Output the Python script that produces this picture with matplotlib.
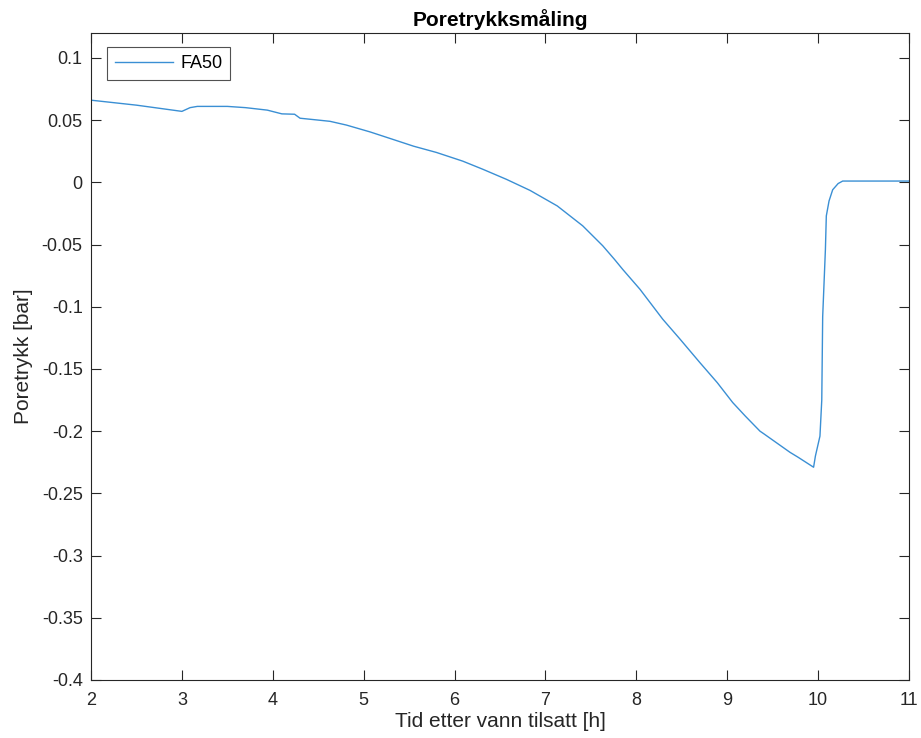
import matplotlib
matplotlib.use('Agg')
import matplotlib.pyplot as plt
from matplotlib.ticker import FuncFormatter

tid = [2.00, 2.50, 3.00, 3.09, 3.17, 3.50, 3.70, 3.94, 4.02, 4.10, 4.24, 4.30, 4.50, 4.63, 4.81,
       5.07, 5.30, 5.55, 5.80, 6.09, 6.31, 6.57, 6.83, 7.13, 7.41, 7.63, 7.76, 7.85, 8.04, 8.29,
       8.48, 8.70, 8.89, 9.06, 9.20, 9.36, 9.40, 9.69, 9.78, 9.95, 9.97, 10.02, 10.04, 10.05,
       10.08, 10.09, 10.12, 10.16, 10.22, 10.27, 10.50, 11.00]
poretrykk = [0.066, 0.062, 0.057, 0.060, 0.061, 0.061, 0.060, 0.058, 0.0565, 0.0550, 0.0547, 0.0515,
             0.050, 0.049, 0.046, 0.0405, 0.035, 0.029, 0.024, 0.017, 0.0105, 0.0024, -0.0065,
             -0.019, -0.035, -0.051, -0.062, -0.070, -0.086, -0.110, -0.126, -0.145, -0.161,
             -0.177, -0.188, -0.200, -0.202, -0.217, -0.221, -0.229, -0.220, -0.204, -0.175,
             -0.108, -0.054, -0.027, -0.015, -0.006, -0.001, 0.001, 0.001, 0.001]

xticks = [2, 3, 4, 5, 6, 7, 8, 9, 10, 11]
yticks = [-0.4, -0.35, -0.3, -0.25, -0.2, -0.15, -0.1, -0.05, 0, 0.05, 0.1]

plt.rcParams['font.family'] = ['Liberation Sans', 'DejaVu Sans']
plt.rcParams['axes.unicode_minus'] = False
fs = 13

fig = plt.figure(figsize=(9.21, 7.38), dpi=100)
ax = fig.add_axes([0.0988, 0.0786, 0.8882, 0.8767])

ax.plot(tid, poretrykk, color='#3A8FD4', linewidth=1.0, label='FA50')

ax.set_xlim(2, 11)
ax.set_ylim(-0.4, 0.12)
ax.set_xticks(xticks)
ax.set_yticks(yticks)
ax.yaxis.set_major_formatter(FuncFormatter(lambda v, p: '%g' % round(v, 2)))
ax.tick_params(direction='in', length=7, width=0.8, colors='#262626', labelsize=fs,
               top=True, right=True, pad=6)
ax.tick_params(axis='x', pad=9)
for s in ax.spines.values():
	s.set_color('#262626')
	s.set_linewidth(0.8)

ax.set_xlabel('Tid etter vann tilsatt [h]', fontsize=fs + 2, color='#262626', labelpad=2)
ax.set_ylabel('Poretrykk [bar]', fontsize=fs + 2, color='#262626', labelpad=6)
ax.set_title('Poretrykksmåling', fontsize=fs + 2, fontweight='bold', color='black', pad=5)

leg = ax.legend(loc='upper left', bbox_to_anchor=(0.0196, 0.978), borderaxespad=0, fontsize=fs,
                fancybox=False, edgecolor='#262626', handlelength=3.2, borderpad=0.45,
                handletextpad=0.4)
leg.get_frame().set_linewidth(0.8)

plt.savefig('out.png', dpi=100)
